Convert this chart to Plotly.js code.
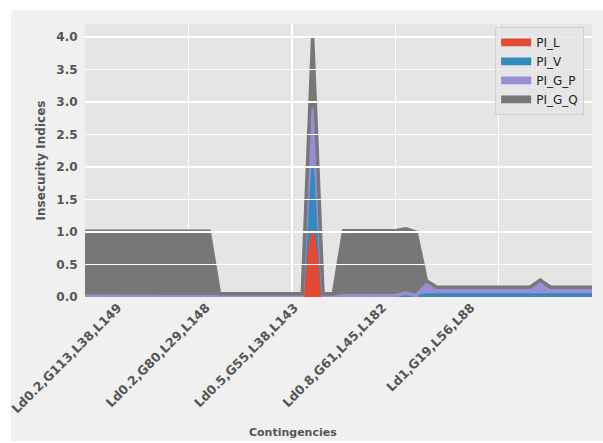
<!DOCTYPE html>
<html>
<head>
<meta charset="utf-8">
<script src="https://cdn.plot.ly/plotly-3.0.1.min.js"></script>
<style>
  html, body { margin: 0; padding: 0; background: #ffffff; }
  #chart { position: absolute; left: 0; top: 0; width: 603px; height: 443px; }
</style>
</head>
<body>
<div id="chart"></div>
<script>
const contingencyIdx = [
  0,1,2,3,4,5,6,7,8,9,
  10,11,12,13,14,15,16,17,18,19,
  20,21,22,23,24,25,26,27,28,29,
  30,31,32,33,34,35,36,37,38,39,
  40,41,42,43,44,45,46,47,48,49
];
const PI_L = [
  0,0,0,0,0,0,0,0,0,0, 0,0,0,0,0,0,0,0,0,0,
  0,0,1.0,0,0,0,0,0,0,0, 0,0,0,0,0,0,0,0,0,0,
  0,0,0,0,0,0,0,0,0,0
];
const PI_V = [
  0,0,0,0,0,0,0,0,0,0, 0,0,0,0,0,0,0,0,0,0,
  0,0,1.0,0,0,0,0,0,0,0, 0,0,0,0.03,0.03,0.03,0.03,0.03,0.03,0.03,
  0.03,0.03,0.03,0.03,0.04,0.03,0.03,0.03,0.03,0.03
];
const PI_G_P = [
  0.01,0.01,0.01,0.01,0.01,0.01,0.01,0.01,0.01,0.01,
  0.01,0.01,0.01,0,0,0,0,0,0,0,
  0,0,0.9,0,0,0.02,0.02,0.02,0.02,0.02,
  0.02,0.06,0.02,0.16,0.08,0.08,0.08,0.08,0.08,0.08,
  0.08,0.08,0.08,0.08,0.16,0.08,0.08,0.08,0.08,0.08
];
const PI_G_Q = [
  1.0,1.0,1.0,1.0,1.0,1.0,1.0,1.0,1.0,1.0,
  1.0,1.0,1.0,0.05,0.05,0.05,0.05,0.05,0.05,0.05,
  0.05,0.05,1.1,0.05,0.05,1.0,1.0,1.0,1.0,1.0,
  1.0,0.99,0.98,0.06,0.04,0.04,0.04,0.04,0.04,0.04,
  0.04,0.04,0.04,0.04,0.06,0.04,0.04,0.04,0.04,0.04
];
const seriesNames = ['PI_L', 'PI_V', 'PI_G_P', 'PI_G_Q'];
const tickLabels = ['Ld0.2,G113,L38,L149', 'Ld0.2,G80,L29,L148', 'Ld0.5,G55,L38,L143', 'Ld0.8,G61,L45,L182', 'Ld1,G19,L56,L88'];
const tickSlots = [0, 1, 2, 3, 4];
const colors = ['#E24A33', '#348ABD', '#988ED5', '#777777'];
const seriesData = [PI_L, PI_V, PI_G_P, PI_G_Q];

const traces = seriesData.map((ys, k) => ({
  type: 'scatter', mode: 'lines', x: contingencyIdx, y: ys, name: seriesNames[k],
  stackgroup: 'one', line: { color: colors[k], width: 3.5 }, fillcolor: colors[k], hoverinfo: 'skip'
}));
// invisible helper so the label axis is drawn
traces.push({
  type: 'scatter', mode: 'markers', x: [0], y: [0], xaxis: 'x2', yaxis: 'y',
  marker: { opacity: 0 }, showlegend: false, hoverinfo: 'skip'
});

const yTickFont = { family: 'DejaVu Sans', size: 12, color: '#555555', weight: 'bold' };
const xTickFont = { family: 'DejaVu Sans', size: 12.5, color: '#555555', weight: 'bold' };

const layout = {
  width: 603, height: 443,
  margin: { l: 85, r: 11, t: 24, b: 146 },
  paper_bgcolor: '#ffffff',
  plot_bgcolor: 'rgba(0,0,0,0)',
  shapes: [
    { type: 'rect', xref: 'paper', yref: 'paper', x0: -0.146, x1: 1.03, y0: -0.5275, y1: 1.0513,
      fillcolor: '#f0f0f0', line: { width: 0 }, layer: 'below' },
    { type: 'rect', xref: 'paper', yref: 'paper', x0: 0, x1: 1, y0: 0, y1: 1,
      fillcolor: '#e5e5e5', line: { width: 0 }, layer: 'below' }
  ],
  showlegend: true,
  legend: { x: 0.809, y: 0.99, xanchor: 'left', yanchor: 'top',
    bgcolor: 'rgba(229,229,229,0.85)', bordercolor: 'rgba(205,205,205,0.9)', borderwidth: 1,
    traceorder: 'normal', itemwidth: 30,
    font: { family: 'DejaVu Sans', size: 12, color: '#222222' } },
  xaxis: { range: [0, 49], tickvals: [0, 10, 20, 30, 40], showticklabels: false, ticks: '',
    showgrid: true, gridcolor: '#ffffff', gridwidth: 1.2, zeroline: false, showline: false },
  xaxis2: { domain: [0, 0.82], anchor: 'y', range: [-0.373, 4.337],
    tickvals: tickSlots, ticktext: tickLabels, tickangle: -45,
    ticks: '', ticklabelstandoff: 0, ticklabeloverflow: 'allow',
    tickfont: xTickFont, showgrid: false, zeroline: false, showline: false,
    title: { text: 'Contingencies', standoff: 13, font: { family: 'DejaVu Sans', size: 11, color: '#555555', weight: 'bold' } } },
  yaxis: { range: [0, 4.2], tickvals: [0, 0.5, 1, 1.5, 2, 2.5, 3, 3.5, 4], tickformat: '.1f',
    tickfont: yTickFont, ticks: 'outside', ticklen: 4, tickcolor: 'rgba(0,0,0,0)',
    showgrid: true, gridcolor: '#ffffff', gridwidth: 1.2, zeroline: false, showline: false,
    title: { text: 'Insecurity Indices', standoff: 8, font: { family: 'DejaVu Sans', size: 12, color: '#555555', weight: 'bold' } } }
};
Plotly.newPlot('chart', traces, layout, { displayModeBar: false, staticPlot: true });
</script>
</body>
</html>
